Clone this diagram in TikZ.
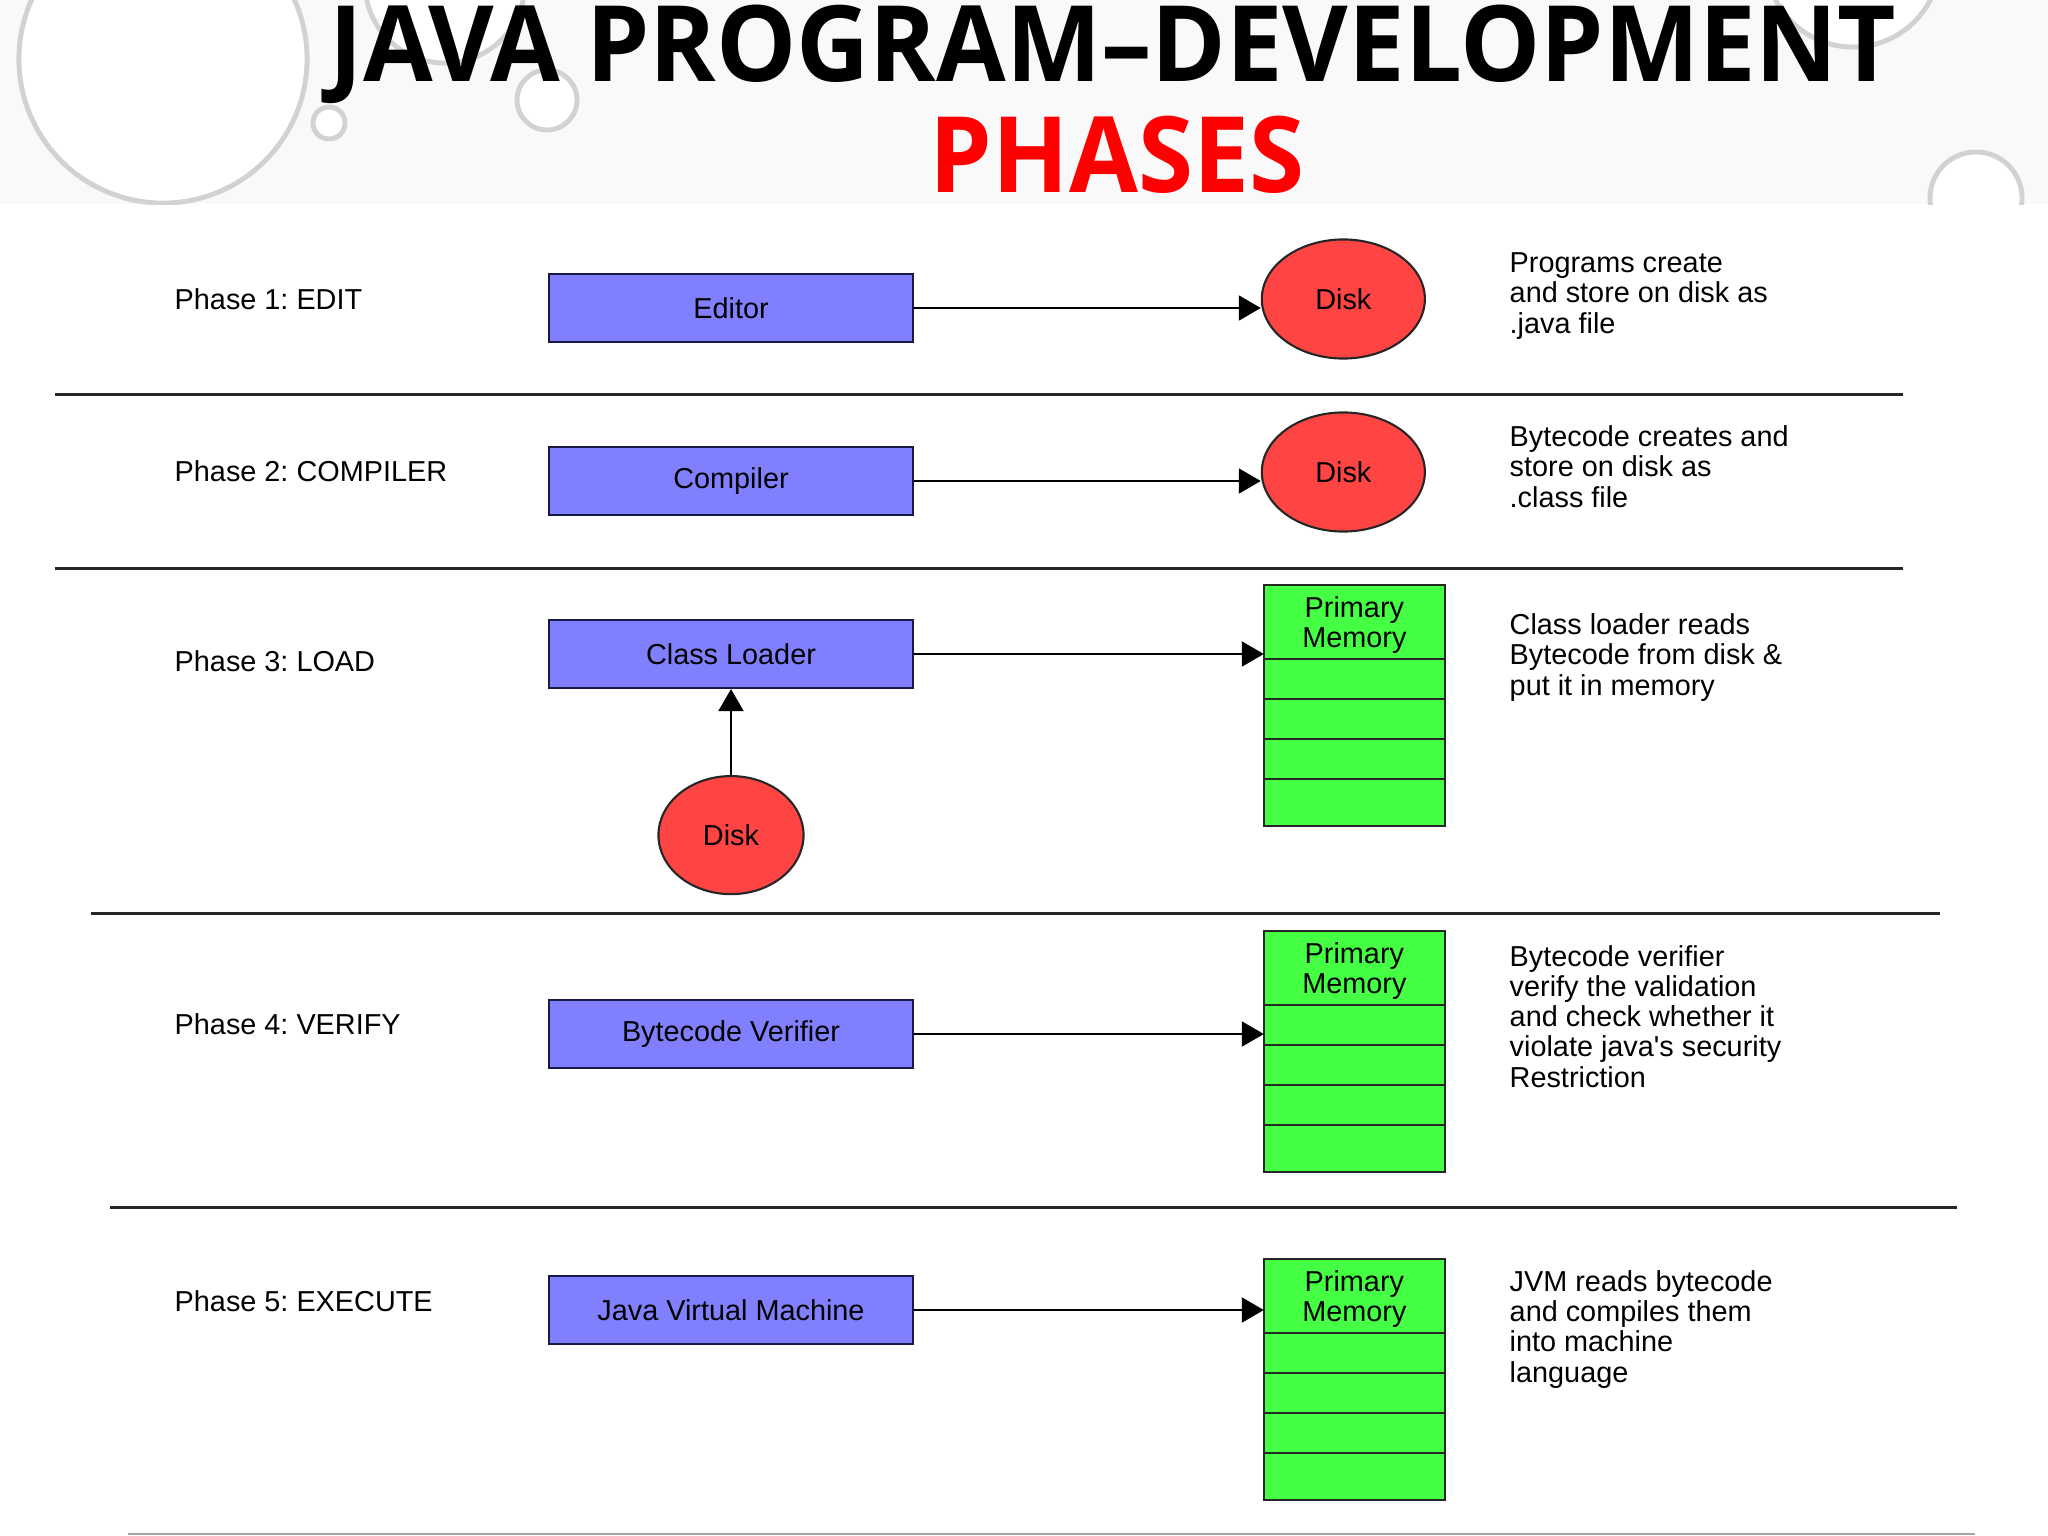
\documentclass[tikz,border=0pt]{standalone}
\usepackage{fontspec}
\setmainfont{Liberation Sans}
\newfontfamily\titlefont{Open Sans}
\frenchspacing
\usetikzlibrary{shapes,arrows.meta,positioning}
\definecolor{procblue}{RGB}{128,128,255}
\definecolor{diskred}{RGB}{255,68,68}
\definecolor{memgreen}{RGB}{68,255,68}
\definecolor{edgeblue}{RGB}{25,25,70}
\tikzstyle{line} = [draw, line width=0.6pt, -{Triangle[length=2.2mm, width=2.5mm]}]
\tikzstyle{proc} = [rectangle, draw=edgeblue, line width=0.6pt, fill=procblue, minimum width=3.64cm, minimum height=0.68cm, text centered]
\tikzstyle{disk} = [ellipse, draw=black!85, line width=0.6pt, fill=diskred, minimum width=1.63cm, minimum height=1.19cm, inner sep=0pt]
\tikzstyle{mem} = [rectangle, draw=black!85, line width=0.6pt, fill=memgreen, minimum width=1.81cm, inner sep=0pt, outer sep=0pt, align=center]
\tikzstyle{phase} = [anchor=base west, inner sep=0pt]
\tikzstyle{note} = [anchor=base west, inner sep=0pt, align=left]
\tikzstyle{sep} = [draw, line width=0.85pt, black!85]
\tikzstyle{bubble} = [draw=gray!35, line width=1.4pt, fill=white]
\tikzstyle{heading} = [anchor=base, inner sep=0pt, font=\titlefont\bfseries\fontsize{30}{30}\selectfont]

\begin{document}
\begin{tikzpicture}[x=0.01cm, y=-0.01cm, every node/.style={font=\fontsize{8.2}{8.6}\selectfont}]
	\useasboundingbox (0,0) rectangle (2048,1536);
	% title band with drops
	\fill [gray!5] (0,0) rectangle (2048,204);
	\begin{scope}
		\clip (0,0) rectangle (2048,204);
		\draw [bubble] (163,59) circle (1.44cm);
		\draw [bubble] (329,123) circle (0.16cm);
		\draw [bubble] (445,-17) circle (0.80cm);
		\draw [bubble] (547,100) circle (0.30cm);
		\draw [bubble] (1853,-40) circle (0.87cm);
		\draw [bubble] (1976,198) circle (0.46cm);
	\end{scope}
	\node [heading] (title) at (1113,81) {\scalebox{0.957}[1]{JAVA PROGRAM–DEVELOPMENT}};
	\node [heading, text=red] (subtitle) at (1117,192) {\scalebox{0.947}[1]{PHASES}};
	
	% separators
	\path [sep] (55,394) -- (1903,394);
	\path [sep] (55,568) -- (1903,568);
	\path [sep] (91,913) -- (1940,913);
	\path [sep] (110,1207) -- (1957,1207);
	\path [draw, line width=0.6pt, gray!70] (128,1534) -- (1975,1534);
	
	% phase 1
	\node [phase] (p1) at (174,309) {Phase 1: EDIT};
	\node [proc] (editor) at (731,308) {Editor};
	\node [disk, right of=editor, node distance=6.12cm, yshift=0.09cm] (disk1) {Disk};
	\path [line] (editor.east) to (editor.east -| disk1.west);
	\node [note] (n1) at (1509,333) {Programs create\\and store on disk as\\.java file};
	
	% phase 2
	\node [phase] (p2) at (174,481) {Phase 2: COMPILER};
	\node [proc] (compiler) at (731,481) {Compiler};
	\node [disk, right of=compiler, node distance=6.12cm, yshift=0.09cm] (disk2) {Disk};
	\path [line] (compiler.east) to (compiler.east -| disk2.west);
	\node [note] (n2) at (1509,507) {Bytecode creates and\\store on disk as\\.class file};
	
	% phase 3
	\node [phase] (p3) at (174,671) {Phase 3: LOAD};
	\node [proc] (loader) at (731,654) {Class Loader};
	\node [disk, below of=loader, node distance=1.81cm, minimum width=1.45cm, minimum height=1.18cm] (disk3) {Disk};
	\path [line] (disk3.north) to (loader.south);
	\node [mem, minimum height=0.74cm, text depth=-2pt, right of=loader, node distance=6.23cm, yshift=0.32cm] (mem3) {Primary\\Memory};
	\node [mem, minimum height=0.40cm, below=0pt of mem3] (mem3a) {};
	\node [mem, minimum height=0.40cm, below=0pt of mem3a] (mem3b) {};
	\node [mem, minimum height=0.40cm, below=0pt of mem3b] (mem3c) {};
	\node [mem, minimum height=0.47cm, below=0pt of mem3c] (mem3d) {};
	\path [line] (loader.east) to (loader.east -| mem3.west);
	\node [note] (n3) at (1509,695) {Class loader reads\\Bytecode from disk \&\\put it in memory};
	
	% phase 4
	\node [phase] (p4) at (174,1034) {Phase 4: VERIFY};
	\node [proc] (verifier) at (731,1034) {Bytecode Verifier};
	\node [mem, minimum height=0.74cm, text depth=-2pt, right of=verifier, node distance=6.23cm, yshift=0.66cm] (mem4) {Primary\\Memory};
	\node [mem, minimum height=0.40cm, below=0pt of mem4] (mem4a) {};
	\node [mem, minimum height=0.40cm, below=0pt of mem4a] (mem4b) {};
	\node [mem, minimum height=0.40cm, below=0pt of mem4b] (mem4c) {};
	\node [mem, minimum height=0.47cm, below=0pt of mem4c] (mem4d) {};
	\path [line] (verifier.east) to (verifier.east -| mem4.west);
	\node [note] (n4) at (1509,1087) {Bytecode verifier\\verify the validation\\and check whether it\\violate java\textquotesingle s security\\Restriction};
	
	% phase 5
	\node [phase] (p5) at (174,1311) {Phase 5: EXECUTE};
	\node [proc] (jvm) at (731,1310) {Java Virtual Machine};
	\node [mem, minimum height=0.74cm, text depth=-2pt, right of=jvm, node distance=6.23cm, yshift=0.14cm] (mem5) {Primary\\Memory};
	\node [mem, minimum height=0.40cm, below=0pt of mem5] (mem5a) {};
	\node [mem, minimum height=0.40cm, below=0pt of mem5a] (mem5b) {};
	\node [mem, minimum height=0.40cm, below=0pt of mem5b] (mem5c) {};
	\node [mem, minimum height=0.47cm, below=0pt of mem5c] (mem5d) {};
	\path [line] (jvm.east) to (jvm.east -| mem5.west);
	\node [note] (n5) at (1509,1382) {JVM reads bytecode\\and compiles them\\into machine\\language};
\end{tikzpicture}
\end{document}
